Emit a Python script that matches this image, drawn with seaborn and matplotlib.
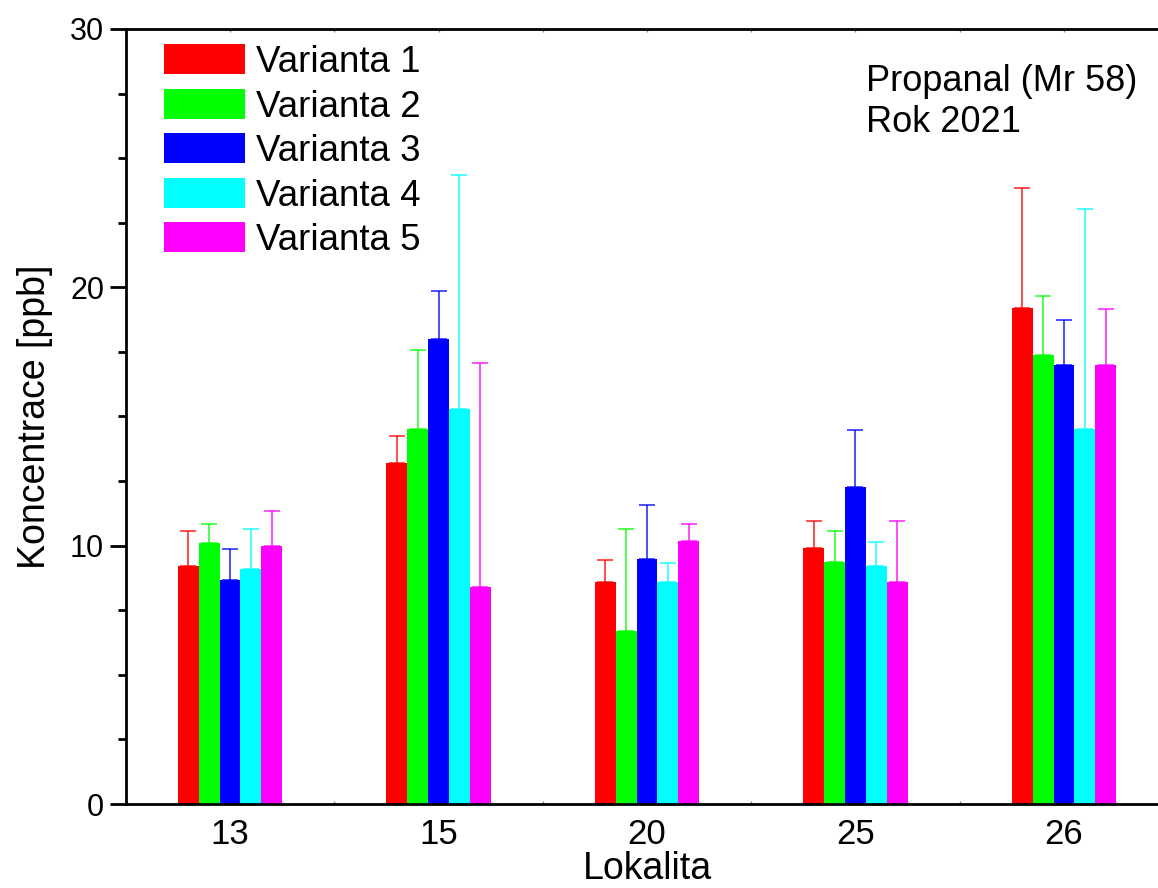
import matplotlib
matplotlib.use("Agg")
import matplotlib.pyplot as plt
from matplotlib.ticker import MultipleLocator, FixedLocator
import numpy as np
import pandas as pd
import seaborn as sns

# Sampling sites and variants
lokality = ["13", "15", "20", "25", "26"]
varianty = ["Varianta 1", "Varianta 2", "Varianta 3", "Varianta 4", "Varianta 5"]

# Mean concentrations [ppb] per variant, ordered by site
v1 = [9.20, 13.20, 8.59, 9.90, 19.20]
v2 = [10.10, 14.50, 6.70, 9.38, 17.39]
v3 = [8.68, 18.00, 9.48, 12.28, 16.98]
v4 = [9.08, 15.30, 8.59, 9.20, 14.50]
v5 = [10.00, 8.39, 10.19, 8.59, 16.98]

# Standard deviations (upper error bars)
sd1 = [1.35, 1.06, 0.85, 1.07, 4.66]
sd2 = [0.75, 3.06, 3.96, 1.17, 2.26]
sd3 = [1.18, 1.84, 2.08, 2.18, 1.77]
sd4 = [1.58, 9.05, 0.75, 0.95, 8.55]
sd5 = [1.36, 8.67, 0.66, 2.35, 2.18]

colors = ["#ff0000", "#00ff00", "#0000ff", "#00ffff", "#ff00ff"]

means = [v1, v2, v3, v4, v5]
sds = [sd1, sd2, sd3, sd4, sd5]

df = pd.DataFrame({
    "Lokalita": np.tile(lokality, len(varianty)),
    "Varianta": np.repeat(varianty, len(lokality)),
    "Koncentrace": np.concatenate(means),
})

sns.set_style("ticks")
plt.rcParams["font.family"] = ["Liberation Sans", "DejaVu Sans"]
plt.rcParams["text.color"] = "black"
plt.rcParams["axes.labelcolor"] = "black"
plt.rcParams["xtick.color"] = "black"
plt.rcParams["ytick.color"] = "black"

fig = plt.figure(figsize=(11.58, 8.88), dpi=100)
ax = fig.add_axes([125.75 / 1158, 84 / 888, 1042.5 / 1158, 775 / 888])

sns.barplot(data=df, x="Lokalita", y="Koncentrace", hue="Varianta",
            order=lokality, hue_order=varianty, palette=colors,
            width=0.5, errorbar=None, saturation=1, linewidth=0, ax=ax)

# Upper-only error bars on top of each bar
for cont, sd, col in zip(ax.containers, sds, colors):
    xs = [p.get_x() + p.get_width() / 2 for p in cont.patches]
    hs = [p.get_height() for p in cont.patches]
    ax.errorbar(xs, hs, yerr=[np.zeros(len(sd)), sd], fmt="none",
                ecolor=col, alpha=0.75, elinewidth=1.3, capsize=5.8,
                capthick=1.3, zorder=3)

ax.set_xlim(-0.5, 4.5)
ax.set_ylim(0, 30)
ax.yaxis.set_major_locator(MultipleLocator(10))
ax.yaxis.set_minor_locator(MultipleLocator(2.5))
ax.xaxis.set_minor_locator(FixedLocator(np.arange(-0.5, 5.0, 1.0)))

for side in ["left", "bottom", "top", "right"]:
    ax.spines[side].set_linewidth(2.0)
    ax.spines[side].set_color("black")

ax.tick_params(axis="y", which="major", direction="out", length=11.5,
               width=2.0, labelsize=22, pad=4, labelcolor="black")
ax.tick_params(axis="y", which="minor", direction="out", length=5.8, width=2.0)
ax.tick_params(axis="x", which="both", direction="in", length=2, width=1.0,
               color="#888888", top=True, labelsize=25, pad=10,
               labelcolor="black")

ax.set_xlabel("Lokalita", fontsize=27, labelpad=0, color="black")
ax.set_ylabel("Koncentrace [ppb]", fontsize=27, labelpad=12, color="black")

leg = ax.legend(loc="upper left", bbox_to_anchor=(0.037, 0.98), frameon=False,
                fontsize=26.5, handlelength=2.2, handleheight=0.87,
                handletextpad=0.3, labelspacing=0.24, borderpad=0,
                borderaxespad=0)
for t in leg.get_texts():
    t.set_color("black")

ax.text(0.710, 0.955, "Propanal (Mr 58)\nRok 2021", transform=ax.transAxes,
        ha="left", va="top", fontsize=26, linespacing=1.22, color="black")

fig.savefig("out.png", dpi=100)
